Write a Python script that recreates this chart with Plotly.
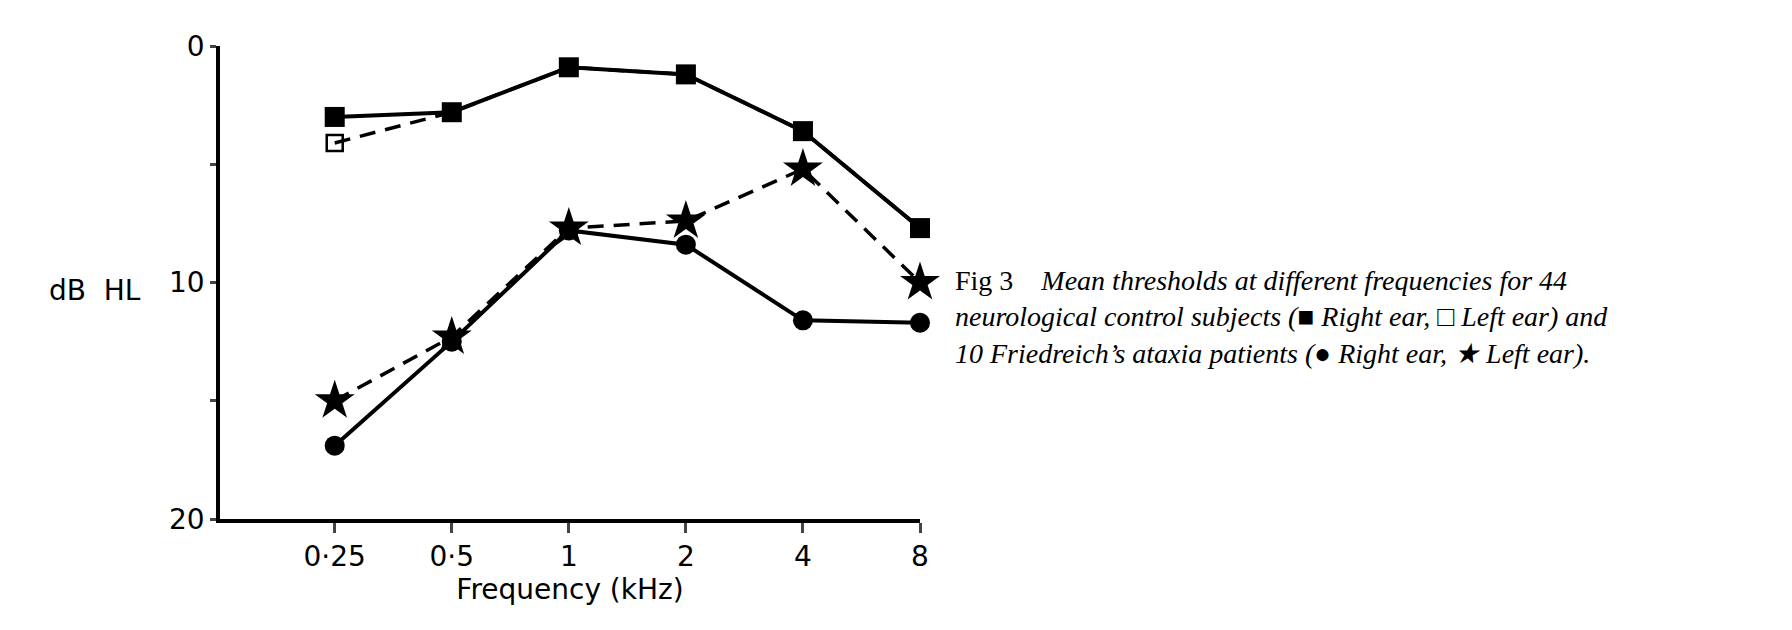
import plotly.graph_objects as go
import numpy as np

freqs = [0.25, 0.5, 1, 2, 4, 8]
freq_labels = ["0·25", "0·5", "1", "2", "4", "8"]
ctrl_right = [3.0, 2.8, 0.9, 1.2, 3.6, 7.7]
ctrl_left = [4.1, 2.8, 0.9, 1.2, 3.6, 7.7]
fa_right = [16.9, 12.5, 7.8, 8.4, 11.6, 11.7]
fa_left = [15.0, 12.3, 7.7, 7.4, 5.2, 10.0]

fig = go.Figure()
fig.add_trace(go.Scatter(x=freqs, y=ctrl_left, mode="lines+markers", cliponaxis=False,
    line=dict(color="black", width=3.5, dash="16px,10px"),
    marker=dict(symbol="square-open", size=16, color="black", line=dict(width=2.5))))
fig.add_trace(go.Scatter(x=freqs, y=fa_left, mode="lines+markers", cliponaxis=False,
    line=dict(color="black", width=3.5, dash="16px,10px"),
    marker=dict(symbol="star", size=30, color="black")))
fig.add_trace(go.Scatter(x=freqs, y=ctrl_right, mode="lines+markers", cliponaxis=False,
    line=dict(color="black", width=4),
    marker=dict(symbol="square", size=20, color="black")))
fig.add_trace(go.Scatter(x=freqs, y=fa_right, mode="lines+markers", cliponaxis=False,
    line=dict(color="black", width=4),
    marker=dict(symbol="circle", size=20, color="black")))

sans = "DejaVu Sans"
pw, ph = 1792 - 212 - 880, 630 - 38 - 119
fig.update_layout(
    width=1792, height=630, showlegend=False,
    paper_bgcolor="white", plot_bgcolor="white",
    margin=dict(l=212, r=880, t=38, b=119),
    xaxis=dict(type="log", range=[np.log10(0.25) - 0.98 * np.log10(2), np.log10(8)],
               tickvals=freqs, ticktext=freq_labels, showline=True, linecolor="black",
               linewidth=3.5, ticks="outside", ticklen=10, tickwidth=3, showgrid=False,
               zeroline=False, tickfont=dict(family=sans, size=28, color="black"),
               title=dict(text="Frequency (kHz)", font=dict(family=sans, size=28, color="black"), standoff=6)),
    yaxis=dict(range=[20, 0], tickvals=[0, 5, 10, 15, 20], ticktext=["0", "", "10", "", "20"],
               showline=True, linecolor="black", linewidth=3.5, ticks="outside", ticklen=6,
               tickwidth=3, showgrid=False, zeroline=False,
               tickfont=dict(family=sans, size=28, color="black")),
    annotations=[
        dict(text="dB  HL", x=(135 - 212) / pw, y=(630 - 119 - 282) / ph, xref="paper", yref="paper",
             xanchor="right", showarrow=False,
             font=dict(family=sans, size=28, color="black")),
        dict(text="Fig 3    <i>Mean thresholds at different frequencies for 44</i><br>"
                  "<i>neurological control subjects (■ Right ear, □ Left ear) and</i><br>"
                  "<i>10 Friedreich’s ataxia patients (● Right ear, ★ Left ear).</i>",
             x=(945 - 212) / pw, y=(630 - 119 - 255) / ph, xref="paper", yref="paper",
             xanchor="left", yanchor="top", align="left", showarrow=False,
             font=dict(family="Liberation Serif", size=28, color="black")),
    ],
)
fig.write_html("out.html")
